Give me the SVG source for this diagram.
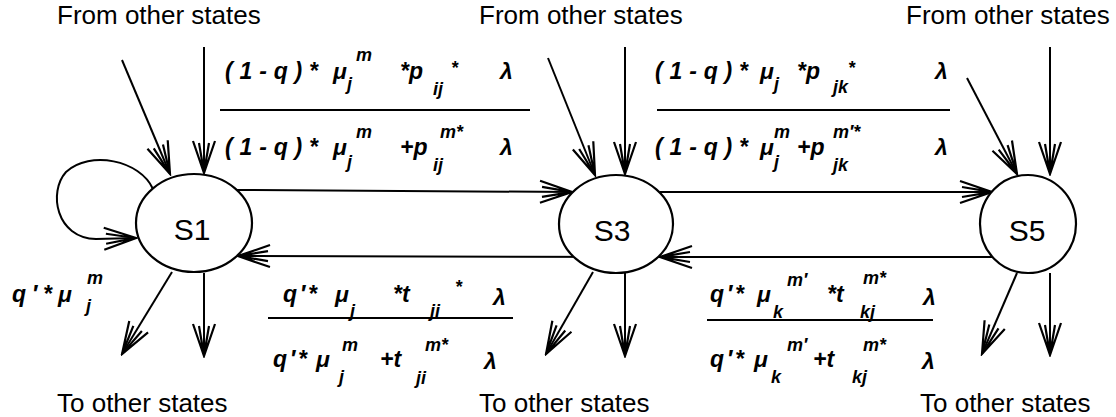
<svg xmlns="http://www.w3.org/2000/svg" width="1116" height="417" viewBox="0 0 1116 417">
<style>
.ln{fill:none;stroke:#000;stroke-width:2}
.nd{fill:#fff;stroke:#000;stroke-width:2.2}
.lbl{font-family:"Liberation Sans",Arial,sans-serif;font-size:26px;fill:#000}
.st{font-family:"Liberation Sans",Arial,sans-serif;font-size:30px;fill:#000;text-anchor:middle}
.f{font-family:"Liberation Sans",Arial,sans-serif;font-style:italic;font-weight:bold;font-size:23px;fill:#000}
.s{font-family:"Liberation Sans",Arial,sans-serif;font-style:italic;font-weight:bold;font-size:18px;fill:#000}
</style>
<defs>
<marker id="ah" viewBox="-36 -14 38 28" refX="0" refY="0" markerWidth="38" markerHeight="28" markerUnits="userSpaceOnUse" orient="auto">
<path d="M-32,-11 L0,0 L-32,11 M-30,-5 L-4,-0.6 M-30,5 L-4,0.6" fill="none" stroke="#000" stroke-width="2.2"/>
</marker>
</defs>
<rect x="0" y="0" width="1116" height="417" fill="#fff"/>

<g id="connectors">
<path class="ln" d="M122,60 L170,174" marker-end="url(#ah)"/>
<path class="ln" d="M204,47 L204,173" marker-end="url(#ah)"/>
<path class="ln" d="M153,189 C140,160 90,150 66,172 C48,192 56,238 96,239 L136,238" marker-end="url(#ah)"/>
<path class="ln" d="M237,190 L572,192" marker-end="url(#ah)"/>
<path class="ln" d="M172,272 L122,354" marker-end="url(#ah)"/>
<path class="ln" d="M204,273 L204,356" marker-end="url(#ah)"/>
<path class="ln" d="M660,257 L238,256" marker-end="url(#ah)"/>
<path class="ln" d="M548,58 L595,175" marker-end="url(#ah)"/>
<path class="ln" d="M625,47 L625,174" marker-end="url(#ah)"/>
<path class="ln" d="M660,192 L992,192" marker-end="url(#ah)"/>
<path class="ln" d="M593,272 L546,354" marker-end="url(#ah)"/>
<path class="ln" d="M625,273 L625,356" marker-end="url(#ah)"/>
<path class="ln" d="M992,257 L660,257" marker-end="url(#ah)"/>
<path class="ln" d="M967,78 L1017,174" marker-end="url(#ah)"/>
<path class="ln" d="M1050,47 L1050,174" marker-end="url(#ah)"/>
<path class="ln" d="M1017,273 L982,354" marker-end="url(#ah)"/>
<path class="ln" d="M1050,273 L1050,355" marker-end="url(#ah)"/>
</g>

<g id="S1"><ellipse class="nd" cx="194" cy="223" rx="58" ry="49"/><text class="st" x="192" y="240">S1</text></g>
<g id="S3"><ellipse class="nd" cx="616" cy="224" rx="57" ry="49"/><text class="st" x="612" y="241">S3</text></g>
<g id="S5"><ellipse class="nd" cx="1028" cy="224" rx="48" ry="49"/><text class="st" x="1027" y="241">S5</text></g>

<g id="labels">
<text class="lbl" x="57" y="24">From other states</text>
<text class="lbl" x="479" y="24">From other states</text>
<text class="lbl" x="906" y="24">From other states</text>
<text class="lbl" x="57" y="412">To other states</text>
<text class="lbl" x="479" y="412">To other states</text>
<text class="lbl" x="920" y="412">To other states</text>
</g>

<g id="rate-s1-s3">
<text class="f" x="225" y="79" textLength="93" lengthAdjust="spacing">(1-q)*</text>
<text class="f" x="333" y="79">μ</text><text class="s" x="347" y="90">j</text><text class="s" x="356" y="61">m</text>
<text class="f" x="400" y="79">*p</text><text class="s" x="433" y="95">ij</text><text class="s" x="451" y="74">*</text>
<text class="f" x="500" y="79">λ</text>
<line class="ln" x1="220" y1="110" x2="530" y2="110"/>
<text class="f" x="225" y="155" textLength="93" lengthAdjust="spacing">(1-q)*</text>
<text class="f" x="333" y="155">μ</text><text class="s" x="347" y="168">j</text><text class="s" x="356" y="138">m</text>
<text class="f" x="400" y="155">+p</text><text class="s" x="433" y="171">ij</text><text class="s" x="440" y="138">m*</text>
<text class="f" x="500" y="155">λ</text>
</g>

<g id="rate-s3-s5">
<text class="f" x="655" y="79" textLength="93" lengthAdjust="spacing">(1-q)*</text>
<text class="f" x="760" y="79">μ</text><text class="s" x="774" y="90">j</text>
<text class="f" x="797" y="79">*p</text><text class="s" x="833" y="93">jk</text><text class="s" x="848" y="74">*</text>
<text class="f" x="935" y="79">λ</text>
<line class="ln" x1="657" y1="110" x2="950" y2="110"/>
<text class="f" x="655" y="155" textLength="93" lengthAdjust="spacing">(1-q)*</text>
<text class="f" x="760" y="155">μ</text><text class="s" x="774" y="168">j</text><text class="s" x="774" y="138">m</text>
<text class="f" x="797" y="155">+p</text><text class="s" x="833" y="171">jk</text><text class="s" x="833" y="138">m′*</text>
<text class="f" x="935" y="155">λ</text>
</g>

<g id="rate-s3-s1">
<text class="f" x="283" y="302" textLength="34" lengthAdjust="spacing">q′*</text>
<text class="f" x="335" y="302">μ</text><text class="s" x="350" y="317">j</text>
<text class="f" x="393" y="302">*t</text><text class="s" x="430" y="317">ji</text><text class="s" x="455" y="293">*</text>
<text class="f" x="493" y="305">λ</text>
<line class="ln" x1="268" y1="318" x2="513" y2="318"/>
<text class="f" x="273" y="367" textLength="34" lengthAdjust="spacing">q′*</text>
<text class="f" x="316" y="367">μ</text><text class="s" x="339" y="383">j</text><text class="s" x="342" y="351">m</text>
<text class="f" x="380" y="367">+t</text><text class="s" x="416" y="384">ji</text><text class="s" x="425" y="351">m*</text>
<text class="f" x="484" y="369">λ</text>
</g>

<g id="rate-s5-s3">
<text class="f" x="710" y="302" textLength="34" lengthAdjust="spacing">q′*</text>
<text class="f" x="757" y="302">μ</text><text class="s" x="773" y="318">k</text><text class="s" x="787" y="286">m′</text>
<text class="f" x="827" y="302">*t</text><text class="s" x="860" y="318">kj</text><text class="s" x="863" y="284">m*</text>
<text class="f" x="923" y="305">λ</text>
<line class="ln" x1="707" y1="320" x2="933" y2="320"/>
<text class="f" x="710" y="367" textLength="34" lengthAdjust="spacing">q′*</text>
<text class="f" x="754" y="367">μ</text><text class="s" x="771" y="383">k</text><text class="s" x="787" y="351">m′</text>
<text class="f" x="813" y="367">+t</text><text class="s" x="852" y="383">kj</text><text class="s" x="863" y="351">m*</text>
<text class="f" x="922" y="369">λ</text>
</g>

<g id="rate-s1-self">
<text class="f" x="12" y="302" textLength="40" lengthAdjust="spacing">q′*</text>
<text class="f" x="58" y="302">μ</text><text class="s" x="86" y="312">j</text><text class="s" x="87" y="284">m</text>
</g>
</svg>
